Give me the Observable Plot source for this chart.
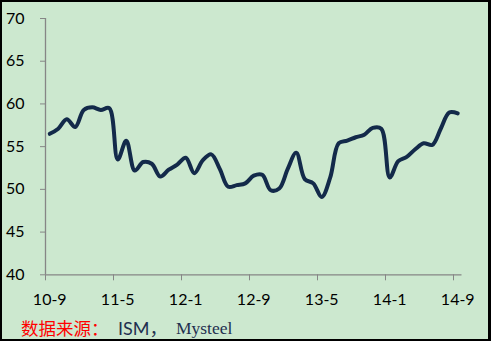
<!DOCTYPE html>
<html>
<head>
<meta charset="utf-8">
<script src="https://cdn.jsdelivr.net/npm/d3@7"></script>
<script src="https://cdn.jsdelivr.net/npm/@observablehq/plot@0.6"></script>
<style>
  html, body { margin: 0; padding: 0; background: #fff; }
  #wrap { position: relative; width: 491px; height: 341px; background: #cce8cf; overflow: hidden; }
  #frame { position: absolute; left: 0; top: 0; width: 491px; height: 341px; box-sizing: border-box;
           border-style: solid; border-color: #000; border-width: 2px 3px 2px 2px; pointer-events: none; }
  #chart { position: absolute; left: 0; top: 0; }
  #caption { position: absolute; left: 0; top: 0; width: 491px; height: 341px; pointer-events: none; }
  #caption span { position: absolute; white-space: nowrap; line-height: 1; }
</style>
</head>
<body>
<div id="wrap">
  <div id="chart"></div>
  <div id="caption">
    <span style="left:21px; top:319px; font-family:'Noto Sans CJK SC'; font-size:17.5px; color:#ff0000;">数据来源：</span>
    <span style="left:118px; top:318.5px; font-family:Lato, 'Noto Sans CJK SC'; font-size:18px; color:#1f3050;">ISM，</span>
    <span style="left:176px; top:320px; font-family:'Liberation Serif'; font-size:17.5px; color:#1f3050;">Mysteel</span>
  </div>
  <div id="frame"></div>
</div>
<script>
// Monthly ISM PMI, 2010-09 .. 2014-09 (49 months)
const values = [
  56.5, 57.1, 58.2, 57.3, 59.3, 59.6, 59.3, 59.5,
  53.5, 55.7, 52.2, 53.2, 53.0, 51.5, 52.3, 52.9,
  53.7, 51.9, 53.4, 54.1, 52.4, 50.3, 50.5, 50.7,
  51.6, 51.7, 49.9, 50.1, 52.4, 54.3, 51.2, 50.7,
  49.1, 51.4, 55.4, 55.7, 56.1, 56.4, 57.2, 57.1,
  51.4, 53.3, 53.8, 54.7, 55.4, 55.2, 57.1, 59.0,
  58.9
];
const tickLabels = ["10-9", "11-5", "12-1", "12-9", "13-5", "14-1", "14-9"];
const labelStep = 8;
const yTicks = [40, 45, 50, 55, 60, 65, 70];

const data = values.map((v, i) => ({i, v}));
const labelPos = tickLabels.map((_, k) => k * labelStep);
const boundaryPos = labelPos.map(p => p - 0.5);

const axisColor = "#868686";
const font = "Lato, 'Open Sans', sans-serif";

const chart = Plot.plot({
  width: 491,
  height: 312,
  marginLeft: 45,
  marginRight: 29.5,
  marginTop: 18,
  marginBottom: 37.7,
  style: {background: "transparent", fontFamily: font, fontSize: "16px", color: "#000"},
  x: {type: "linear", domain: [-0.5, values.length - 0.5]},
  y: {domain: [40, 70]},
  marks: [
    Plot.ruleX([-0.5], {y1: 40, y2: 70, stroke: axisColor, strokeWidth: 1.3}),
    Plot.ruleY([40], {stroke: axisColor, strokeWidth: 1.3}),
    Plot.axisY({ticks: yTicks, tickSize: 5, tickPadding: 16, stroke: axisColor, fontSize: 16, fill: "#000", label: null}),
    Plot.axisX({ticks: boundaryPos, tickSize: 6, tickFormat: () => "", stroke: axisColor, label: null}),
    Plot.axisX({ticks: labelPos, tickSize: 0, tickPadding: 19, tickFormat: (d) => tickLabels[Math.round(d / labelStep)], fontSize: 16, fill: "#000", label: null}),
    Plot.line(data, {x: "i", y: "v", stroke: "#132a4a", strokeWidth: 4, curve: "catmull-rom", strokeLinecap: "round", strokeLinejoin: "round"})
  ]
});
document.getElementById("chart").appendChild(chart);
</script>
</body>
</html>
